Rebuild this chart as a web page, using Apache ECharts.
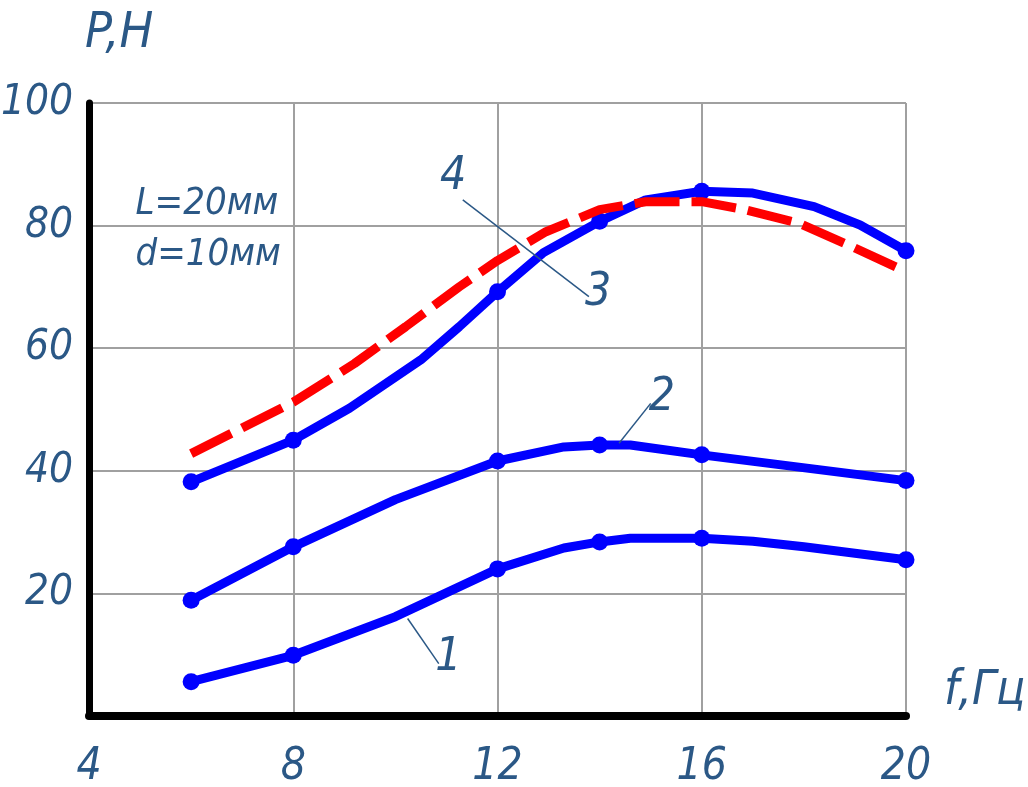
<!DOCTYPE html>
<html><head><meta charset="utf-8">
<script src="https://cdn.jsdelivr.net/npm/echarts@6/dist/echarts.min.js"></script>
<style>html,body{margin:0;padding:0;background:#fff}#c{width:1028px;height:787px}</style>
</head><body><div id="c"></div>
<script>
// Axis ticks
const xMin = 4, xMax = 20, xStep = 4;
const yMin = 0, yMax = 100, yStep = 20;
// Frequencies where measurements were taken (marked with dots)
const measuredF = [6, 8, 12, 14, 16, 20];

// Curve 1
const curve1F = [6, 8, 10, 12, 13.3, 14, 14.6, 16, 17, 18, 20];
const curve1P = [5.6, 9.9, 16.2, 24.0, 27.4, 28.4, 29.0, 29.0, 28.5, 27.6, 25.5];
// Curve 2
const curve2F = [6, 8, 10, 12, 13.3, 14, 14.6, 16, 20];
const curve2P = [18.9, 27.6, 35.3, 41.6, 43.9, 44.2, 44.2, 42.6, 38.4];
// Curve 3
const curve3F = [6, 8, 9.1, 10.5, 11.25, 12, 12.9, 14, 14.9, 16, 17, 18.2, 19.1, 20];
const curve3P = [38.2, 45.0, 50.2, 58.1, 63.5, 69.2, 75.6, 80.7, 84.2, 85.6, 85.3, 83.1, 80.1, 75.9];
// Curve 4 (dashed)
const curve4F = [6, 8, 9.2, 10.2, 11.25, 12, 12.95, 14, 14.9, 16, 16.85, 17.9, 18.8, 20];
const curve4P = [42.8, 51.2, 57.5, 63.5, 70.0, 74.3, 79.0, 82.6, 83.9, 83.9, 82.6, 80.4, 77.1, 72.5];

const xName = 'f,Гц';
const yName = 'P,Н';
const paramLines = ['L=20мм', 'd=10мм'];

const TXT = '#2b5886';
const FONT = '"Liberation Sans Narrow", "DejaVu Sans Condensed", sans-serif';

function build(fs, ps, marks) {
  return fs.map((f, i) => ({
    value: [f, ps[i]],
    symbol: marks && measuredF.includes(f) ? 'circle' : 'none'
  }));
}

const chart = echarts.init(document.getElementById('c'), null, {renderer: 'canvas'});
const blueSeries = (name, fs, ps) => ({
  name, type: 'line', data: build(fs, ps, true),
  showSymbol: true, symbolSize: 17, smooth: false,
  lineStyle: {color: '#0000ff', width: 9, cap: 'round', join: 'round'},
  itemStyle: {color: '#0000ff'},
  emphasis: {disabled: true}, z: 3
});

chart.setOption({
  animation: false,
  grid: {left: 89, right: 122, top: 103, bottom: 71, containLabel: false, outerBoundsMode: 'none'},
  xAxis: {
    type: 'value', min: xMin, max: xMax, interval: xStep,
    name: xName, nameLocation: 'end', nameGap: 38,
    nameTextStyle: {color: TXT, fontFamily: FONT, fontStyle: 'italic', fontSize: 48,
      align: 'left', verticalAlign: 'bottom'},
    axisLine: {show: true, onZero: false, lineStyle: {color: '#000', width: 8}},
    axisTick: {show: false},
    axisLabel: {color: TXT, fontFamily: FONT, fontStyle: 'italic', fontSize: 44, margin: 30},
    splitLine: {show: true, lineStyle: {color: '#a0a0a0', width: 2}}
  },
  yAxis: {
    type: 'value', min: yMin, max: yMax, interval: yStep,
    name: yName, nameLocation: 'end', nameGap: 44,
    nameTextStyle: {color: TXT, fontFamily: FONT, fontStyle: 'italic', fontSize: 50,
      align: 'left', verticalAlign: 'bottom', padding: [0, 0, 0, -4]},
    axisLine: {show: true, onZero: false, lineStyle: {color: '#000', width: 7}},
    axisTick: {show: false},
    axisLabel: {color: TXT, fontFamily: FONT, fontStyle: 'italic', fontSize: 42, margin: 16,
      showMinLabel: false, padding: [0, 0, 6, 0]},
    splitLine: {show: true, lineStyle: {color: '#a0a0a0', width: 2}}
  },
  series: [
    blueSeries('1', curve1F, curve1P),
    blueSeries('2', curve2F, curve2P),
    blueSeries('3', curve3F, curve3P),
    {
      name: '4', type: 'line', data: build(curve4F, curve4P, false),
      showSymbol: false, smooth: false,
      lineStyle: {color: '#ff0000', width: 9, type: [45, 12], cap: 'butt'},
      emphasis: {disabled: true}, z: 4
    }
  ]
});

// Annotations (in data coordinates), converted through the grid's scales
const leaders = [
  [[10.24, 15.9], [10.85, 8.55]],
  [[14.38, 44.5], [15.0, 51.0]],
  [[11.32, 84.2], [13.79, 68.4]]
];
const curveLabels = [
  ['1', [11.04, 9.4]],
  ['2', [15.22, 51.9]],
  ['3', [13.97, 69.0]],
  ['4', [11.13, 87.9]]
];
const paramPos = [[4.91, 83.5], [4.91, 75.2]];

const px = p => chart.convertToPixel({gridIndex: 0}, p);
const graphics = [];
leaders.forEach(([a, b]) => {
  const pa = px(a), pb = px(b);
  graphics.push({type: 'line', z: 10, shape: {x1: pa[0], y1: pa[1], x2: pb[0], y2: pb[1]},
    style: {stroke: TXT, lineWidth: 1.5}});
});
curveLabels.forEach(([t, p]) => {
  const q = px(p);
  graphics.push({type: 'text', z: 10, x: q[0], y: q[1],
    style: {text: t, fill: TXT, fontFamily: FONT, fontStyle: 'italic', fontSize: 46,
      align: 'center', verticalAlign: 'middle'}});
});
paramLines.forEach((t, i) => {
  const q = px(paramPos[i]);
  graphics.push({type: 'text', z: 10, x: q[0], y: q[1],
    style: {text: t, fill: TXT, fontFamily: FONT, fontStyle: 'italic', fontSize: 38,
      align: 'left', verticalAlign: 'middle'}});
});
chart.setOption({graphic: graphics});
</script>
</body></html>
